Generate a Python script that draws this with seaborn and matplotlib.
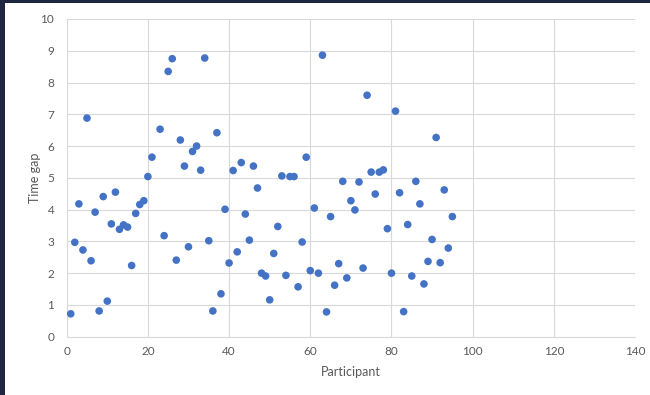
import matplotlib
matplotlib.use("Agg")
import matplotlib.pyplot as plt
from matplotlib.patches import Rectangle
import seaborn as sns
import pandas as pd

participants = [1, 2, 3, 4, 5, 6, 7, 8, 9, 10, 11, 12, 13, 14, 15, 16, 17, 18, 19, 20,
                21, 23, 24, 25, 26, 27, 28, 29, 30, 31, 32, 33, 34, 35, 36, 37, 38, 39, 40,
                41, 42, 43, 44, 45, 46, 47, 48, 49, 50, 51, 52, 53, 54, 55, 56, 57, 58, 59, 60,
                61, 62, 63, 64, 65, 66, 67, 68, 69, 70, 71, 72, 73, 74, 75, 76, 77, 78, 79, 80,
                81, 82, 83, 84, 85, 86, 87, 88, 89, 90, 91, 92, 93, 94, 95]
time_gap = [0.72, 2.97, 4.18, 2.73, 6.88, 2.39, 3.92, 0.81, 4.41, 1.12,
            3.55, 4.55, 3.38, 3.52, 3.45, 2.24, 3.88, 4.16, 4.28, 5.04,
            5.65, 6.53, 3.18, 8.35, 8.75, 2.41, 6.19, 5.37, 2.83, 5.83,
            6.00, 5.24, 8.77, 3.02, 0.81, 6.42, 1.35, 4.01, 2.32, 5.23,
            2.67, 5.48, 3.86, 3.04, 5.37, 4.68, 2.00, 1.91, 1.16, 2.62,
            3.47, 5.06, 1.93, 5.04, 5.04, 1.57, 2.98, 5.65, 2.08, 4.05,
            2.00, 8.86, 0.78, 3.78, 1.62, 2.30, 4.89, 1.85, 4.28, 3.99,
            4.87, 2.16, 7.60, 5.18, 4.49, 5.18, 5.25, 3.40, 2.00, 7.10,
            4.53, 0.79, 3.53, 1.91, 4.89, 4.18, 1.66, 2.37, 3.06, 6.27,
            2.33, 4.62, 2.79, 3.78]
x_ticks = [0, 20, 40, 60, 80, 100, 120, 140]
y_ticks = [0, 1, 2, 3, 4, 5, 6, 7, 8, 9, 10]

df = pd.DataFrame({"Participant": participants, "Time gap": time_gap})

sns.set_theme(style="white")
plt.rcParams['font.family'] = ['Lato', 'DejaVu Sans']

fig = plt.figure(figsize=(6.5, 3.95), dpi=100)
fig.patch.set_facecolor("white")
ax = fig.add_axes([0.1026, 0.1476, 0.977 - 0.1026, 0.952 - 0.1476])

sns.scatterplot(data=df, x="Participant", y="Time gap", ax=ax,
                color="#4472C4", s=30, edgecolor="none", linewidth=0, zorder=3)

ax.set_xlim(0, 140)
ax.set_ylim(0, 10)
ax.set_xticks(x_ticks)
ax.set_yticks(y_ticks)
ax.grid(True, color="#d9d9d9", linewidth=0.8, zorder=0)
ax.set_axisbelow(True)
for side in ["top", "right"]:
    ax.spines[side].set_visible(False)
for side in ["left", "bottom"]:
    ax.spines[side].set_color("#d9d9d9")
    ax.spines[side].set_linewidth(0.8)
ax.tick_params(axis="both", length=0, labelsize=8.5, colors="#595959")
ax.tick_params(axis="y", pad=9)
ax.tick_params(axis="x", pad=7)
ax.set_xlabel("Participant", fontsize=9, color="#595959", labelpad=6)
ax.set_ylabel("Time gap", fontsize=9, color="#595959", labelpad=-0.5)

# dark frame strips
fig.add_artist(Rectangle((0, 0), 5 / 650, 1, transform=fig.transFigure,
                         facecolor="#1e2640", edgecolor="none"))
fig.add_artist(Rectangle((0, 1 - 3 / 395), 1, 3 / 395, transform=fig.transFigure,
                         facecolor="#1e2640", edgecolor="none"))

fig.savefig("out.png", dpi=100)
